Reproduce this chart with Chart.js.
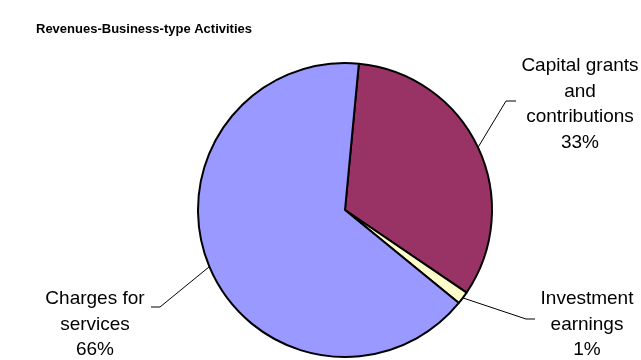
<!DOCTYPE html>
<html>
<head>
<meta charset="utf-8">
<script src="https://cdn.jsdelivr.net/npm/chart.js@4/dist/chart.umd.min.js"></script>
<style>
  html, body { margin: 0; padding: 0; background: #fff; }
  #wrap { width: 641px; height: 360px; position: relative; }
</style>
</head>
<body>
<div id="wrap"><canvas id="chart" width="641" height="360"></canvas></div>
<script>
const title = "Revenues-Business-type Activities";
const categories = ["Capital grants and contributions", "Investment earnings", "Charges for services"];
// label text split over lines, same order as categories
const labelLines = [["Capital grants", "and", "contributions"], ["Investment", "earnings"], ["Charges for", "services"]];
const shares = [33.0, 1.4, 65.6];
const colors = ["#993366", "#FFFFCC", "#9999FF"];

// where each label block sits (centre x, first baseline y) and the elbow of its leader line
const labelAnchors = [
  { x: 580, y: 71, elbowX: 506, elbowY: 101, endX: 516 },
  { x: 587, y: 304, elbowX: 526, elbowY: 319, endX: 535 },
  { x: 95, y: 304, elbowX: 160, elbowY: 307, endX: 151 }
];

const FONT = '"Liberation Sans", Arial, sans-serif';

const outsideLabels = {
  id: "outsideLabels",
  afterDraw(chart) {
    const ctx = chart.ctx;
    const meta = chart.getDatasetMeta(0);
    const total = shares.reduce((a, b) => a + b, 0);

    ctx.save();
    ctx.fillStyle = "#000";
    ctx.textBaseline = "alphabetic";
    ctx.font = "bold 13px " + FONT;
    ctx.textAlign = "left";
    ctx.fillText(title, 36, 33);

    ctx.font = "19px " + FONT;
    ctx.textAlign = "center";
    meta.data.forEach((arc, i) => {
      const a = labelAnchors[i];
      const mid = (arc.startAngle + arc.endAngle) / 2;
      const sx = arc.x + Math.cos(mid) * arc.outerRadius;
      const sy = arc.y + Math.sin(mid) * arc.outerRadius;

      ctx.strokeStyle = "#000";
      ctx.lineWidth = 1;
      ctx.beginPath();
      ctx.moveTo(sx, sy);
      ctx.lineTo(a.elbowX, a.elbowY);
      ctx.lineTo(a.endX, a.elbowY);
      ctx.stroke();

      const lines = labelLines[i].concat([Math.round(shares[i] / total * 100) + "%"]);
      lines.forEach((t, k) => ctx.fillText(t, a.x, a.y + k * 25.5));
    });
    ctx.restore();
  }
};

new Chart(document.getElementById("chart"), {
  type: "pie",
  data: {
    labels: categories,
    datasets: [{
      data: shares,
      backgroundColor: colors,
      borderColor: "#000",
      borderWidth: 2,
      radius: 147
    }]
  },
  options: {
    responsive: false,
    animation: false,
    rotation: 5.4,
    layout: { padding: { left: 197, right: 148, top: 62, bottom: 2 } },
    plugins: {
      legend: { display: false },
      title: { display: false },
      tooltip: { enabled: false }
    }
  },
  plugins: [outsideLabels]
});
</script>
</body>
</html>
